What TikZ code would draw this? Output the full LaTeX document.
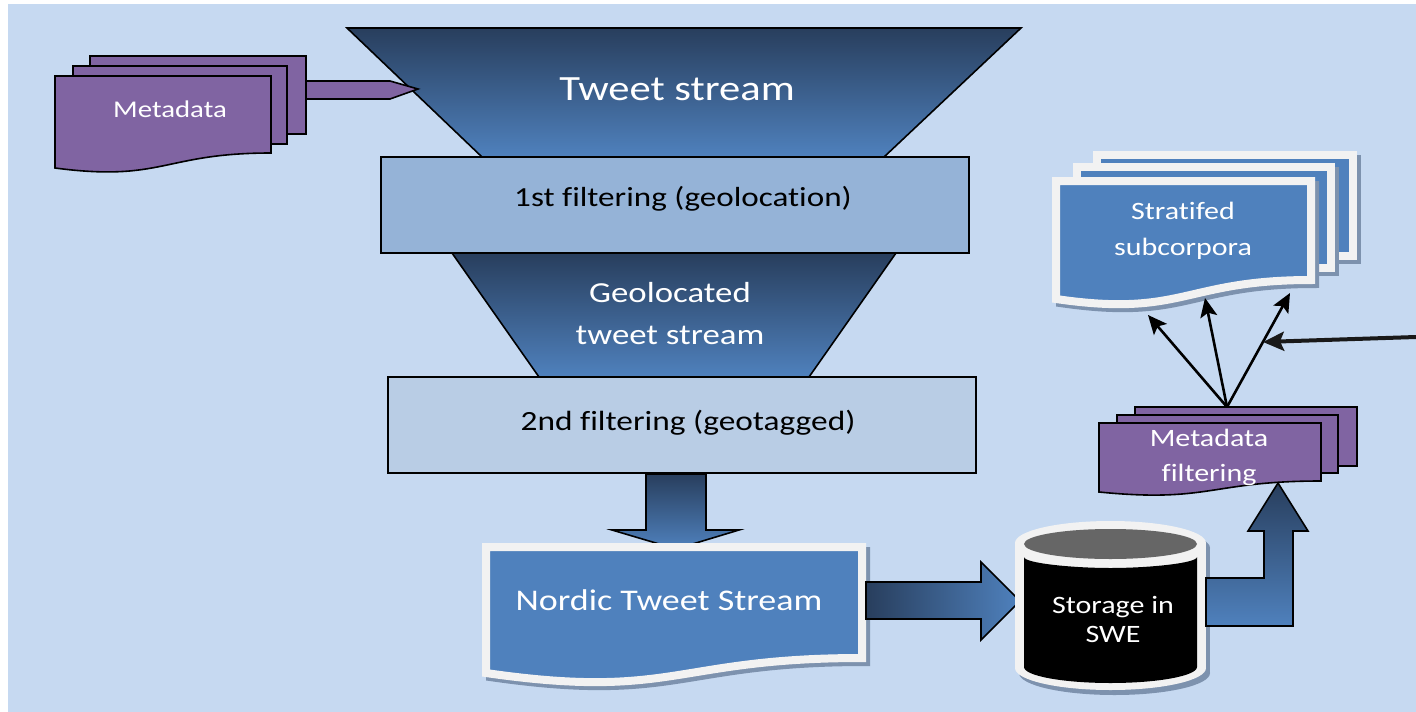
\documentclass[tikz,border=0pt]{standalone}
\usepackage{fontspec}
\setmainfont{Carlito}[FakeStretch=1.2,Ligatures=NoCommon]
\usetikzlibrary{arrows.meta,shadings}
\definecolor{bgc}{HTML}{C6D9F1}
\definecolor{purp}{HTML}{8064A2}
\definecolor{blu}{HTML}{4F81BD}
\definecolor{drk}{HTML}{283E5D}
\definecolor{boxa}{HTML}{95B3D7}
\definecolor{boxb}{HTML}{B9CDE5}
\definecolor{wbord}{HTML}{F2F2F2}
\definecolor{shad}{HTML}{7D92AE}
\definecolor{cylgray}{HTML}{666666}
% document shape: x1, ytop, x2, y bottom-right, y bottom-left
\newcommand\docpath[5]{(#1,#2) -- (#3,#2) -- (#3,#4) .. controls ({(#1+#3)/2},#4) and ({(#1+#3)/2},{#4+0.38*(#4-#2)}) .. (#1,#5) -- cycle}
\begin{document}
\begin{tikzpicture}[x=1pt,y=-1pt,
  outl/.style={draw=black, line width=1.6pt, line join=miter},
  purpdoc/.style={outl, fill=purp},
  wdoc/.style={draw=wbord, fill=blu, line width=8pt, line join=miter},
  wshad/.style={draw=shad, fill=shad, line width=8pt, line join=miter},
  vgrad/.style={outl, top color=drk, bottom color=blu},
  wtext/.style={text=white, align=center, inner sep=0pt},
  btext/.style={text=black, align=center, inner sep=0pt},
  ptr/.style={draw=black, line width=2.6pt, -{Stealth[length=19pt,width=17pt,inset=4pt]}},
]
\useasboundingbox (0,0) rectangle (1416,712);
\fill[white] (0,0) rectangle (1416,712);
\fill[bgc] (8,4) rectangle (1416,712);

% ---------- funnel ----------
\path[vgrad] (347,28) -- (1021,28) -- (884,157) -- (482,157) -- cycle;
\path[vgrad] (452,253) -- (896,253) -- (809,377) -- (539,377) -- cycle;
\node[outl, fill=boxa, minimum width=588pt, minimum height=96pt, inner sep=0pt] (filt1) at (675,205) {};
\node[outl, fill=boxb, minimum width=588pt, minimum height=96pt, inner sep=0pt] (filt2) at (682,425) {};
\node[wtext, font=\fontsize{35.5}{40}\selectfont] (tweets) at (677,89) {Tweet stream};
\node[btext, font=\fontsize{27.6}{32}\selectfont] (t1) at (683,199) {1st filtering (geolocation)};
\node[wtext, font=\fontsize{29}{42}\selectfont] (geo) at (670,314) {Geolocated\\tweet stream};
\node[btext, font=\fontsize{27.8}{32}\selectfont] (t2) at (688,423) {2nd filtering (geotagged)};

% ---------- metadata (left) ----------
\path[purpdoc] (90,56) rectangle (306,134);
\path[purpdoc] (73,66) rectangle (287,144);
\path[purpdoc] \docpath{55}{76}{271}{153}{168};
\node[wtext, font=\fontsize{24}{28}\selectfont] (meta) at (170,109) {Metadata};
\path[purpdoc] (306,81) -- (390,81) -- (418,89) -- (390,99) -- (306,99) -- cycle;

% ---------- down arrow ----------
\path[vgrad] (646,474) -- (706,474) -- (706,530) -- (739,530) -- (676,549) -- (612,530) -- (646,530) -- cycle;

% ---------- Nordic tweet stream ----------
\path[wshad, shift={(4,4)}] \docpath{486}{547}{862}{658}{673};
\path[wdoc] \docpath{486}{547}{862}{658}{673};
\node[wtext, font=\fontsize{30}{34}\selectfont] (nordic) at (669,600) {Nordic Tweet Stream};

% ---------- right arrow ----------
\path[outl, left color=drk, right color=blu] (866,582) -- (981,582) -- (981,562) -- (1020,601) -- (981,640) -- (981,619) -- (866,619) -- cycle;

% ---------- storage cylinder ----------
\begin{scope}[shift={(4,5)}]
\fill[shad] (1110.5,543) ellipse [x radius=95.5, y radius=22];
\fill[shad] (1015,543) rectangle (1206,668);
\fill[shad] (1110.5,668) ellipse [x radius=95.5, y radius=22];
\end{scope}
\fill[wbord] (1110.5,543) ellipse [x radius=95.5, y radius=22];
\fill[wbord] (1015,543) rectangle (1206,668);
\fill[wbord] (1110.5,668) ellipse [x radius=95.5, y radius=22];
\fill[black] (1024,557) .. controls (1024,563.1) and (1071.8,568) .. (1110.5,568) .. controls (1149.2,568) and (1197,563.1) .. (1197,557)
  -- (1197,667) .. controls (1197,675.8) and (1158.3,683) .. (1110.5,683) .. controls (1062.7,683) and (1024,675.8) .. (1024,667) -- cycle;
\fill[cylgray] (1110.5,544) ellipse [x radius=86.5, y radius=15];
\node[wtext, font=\fontsize{25}{29}\selectfont] (storage) at (1113,619) {Storage in\\SWE};

% ---------- elbow arrow ----------
\path[vgrad] (1206,578) -- (1264,578) -- (1264,531) -- (1248,531) -- (1278,483) -- (1308,531) -- (1293,531) -- (1293,626) -- (1206,626) -- cycle;

% ---------- stratified subcorpora ----------
\path[wshad, shift={(4,4)}] (1097,155) rectangle (1353,256);
\path[wdoc] (1097,155) rectangle (1353,256);
\path[wshad, shift={(4,4)}] (1077,167) rectangle (1331,268);
\path[wdoc] (1077,167) rectangle (1331,268);
\path[wshad, shift={(4,4)}] \docpath{1056}{181}{1311}{280}{299};
\path[wdoc] \docpath{1056}{181}{1311}{280}{299};
\node[wtext, font=\fontsize{25}{36}\selectfont] (strat) at (1183,231) {Stratifed\\subcorpora};

% ---------- metadata filtering ----------
\path[purpdoc] (1135,407) rectangle (1357,466);
\path[purpdoc] (1117,415) rectangle (1338,473);
\path[purpdoc] \docpath{1099}{423}{1321}{481}{492};
\node[wtext, font=\fontsize{25}{35}\selectfont] (mfilt) at (1209,457) {Metadata\\filtering};

% ---------- thin arrows ----------
\coordinate (mfTop) at (1227,407);
\coordinate (sA) at (1148,315);
\coordinate (sB) at (1205,298);
\coordinate (sC) at (1290,293);
\coordinate (rIn) at (1416,337);
\coordinate (rOut) at (1263,342);
\draw[ptr] (mfTop) -- (sA);
\draw[ptr] (mfTop) -- (sB);
\draw[ptr] (mfTop) -- (sC);
\draw[draw={black!90}, line width=4pt, -{Stealth[length=21pt,width=19pt,inset=4pt]}] (rIn) -- (rOut);
\end{tikzpicture}
\end{document}
